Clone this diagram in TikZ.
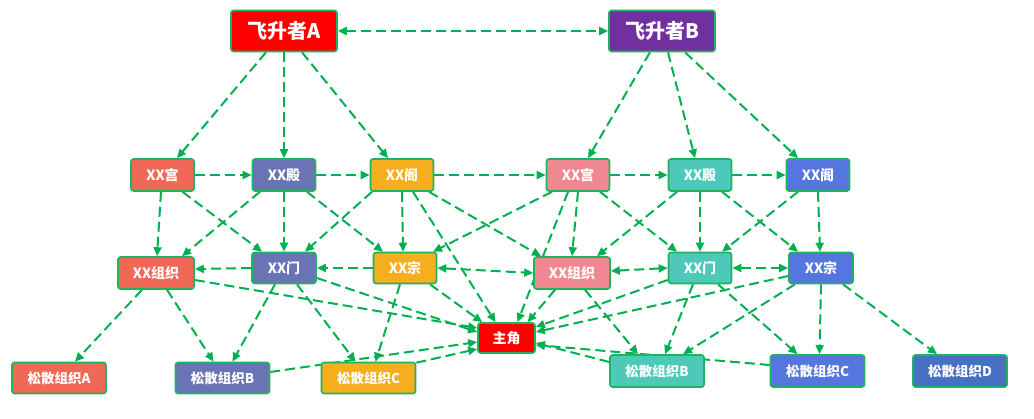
\documentclass[tikz,border=0pt]{standalone}
\usepackage{fontspec}
\setmainfont{Noto Sans CJK SC}
\usetikzlibrary{arrows.meta}
\pgfdeclarelayer{background}
\pgfsetlayers{background,main}
\definecolor{linegreen}{HTML}{00B050}
\definecolor{bordergreen}{HTML}{1FB35F}
\definecolor{cred}{HTML}{FF0000}
\definecolor{cpurple}{HTML}{7030A0}
\definecolor{ccoral}{HTML}{F06856}
\definecolor{cslate}{HTML}{6A74B5}
\definecolor{corange}{HTML}{F5AE1D}
\definecolor{cpink}{HTML}{F08891}
\definecolor{cteal}{HTML}{4EC8B9}
\definecolor{cblue}{HTML}{5476DE}
\definecolor{cdblue}{HTML}{4770C2}
\begin{document}
\begin{tikzpicture}[x=1pt,y=-1pt,
  box/.style={draw=bordergreen, line width=1.6pt, rounded corners=2.5pt, text=white, inner sep=0pt, align=center},
  topbox/.style={box, minimum width=106pt, minimum height=41pt, font=\fontsize{20}{20}\selectfont\bfseries},
  midbox/.style={box, minimum width=63pt, minimum height=32pt, font=\fontsize{14}{14}\selectfont\bfseries},
  widebox/.style={midbox, minimum width=76pt},
  herobox/.style={box, minimum width=57pt, minimum height=30pt, font=\fontsize{14}{14}\selectfont\bfseries},
  lowbox/.style={box, minimum width=94pt, minimum height=31pt, font=\fontsize{13.5}{13.5}\selectfont\bfseries},
  link/.style={draw=linegreen, line width=2pt, dash pattern=on 10pt off 5pt, -{Triangle[length=9pt,width=8pt]}},
  dlink/.style={link, {Triangle[length=9pt,width=8pt]}-{Triangle[length=9pt,width=8pt]}}]
\useasboundingbox (0,0) rectangle (1034,419);
% top
\node[topbox, fill=cred] (A) at (284,31) {飞升者A};
\node[topbox, fill=cpurple] (B) at (662,31) {飞升者B};
% row 2
\node[midbox, fill=ccoral] (Ag) at (162.5,175) {XX宫};
\node[midbox, fill=cslate] (Ad) at (284,175) {XX殿};
\node[midbox, fill=corange] (Ae) at (402,175) {XX阁};
\node[midbox, fill=cpink] (Bg) at (578,175) {XX宫};
\node[midbox, fill=cteal] (Bd) at (700,175) {XX殿};
\node[midbox, fill=cblue] (Be) at (818,175) {XX阁};
% row 3
\node[widebox, fill=ccoral] (Azz) at (156,273) {XX组织};
\node[midbox, fill=cslate, minimum width=64pt, minimum height=31pt] (Am) at (284,268) {XX门};
\node[midbox, fill=corange, minimum height=31pt] (Az) at (405,268) {XX宗};
\node[widebox, fill=cpink] (Bzz) at (572,273) {XX组织};
\node[midbox, fill=cteal, minimum height=31pt] (Bm) at (700,268) {XX门};
\node[midbox, fill=cblue, minimum width=64pt, minimum height=31pt] (Bz) at (821,268) {XX宗};
% hero
\node[herobox, fill=cred] (H) at (506.5,338) {主角};
% bottom
\node[lowbox, fill=ccoral] (LA) at (59,378) {松散组织A};
\node[lowbox, fill=cslate] (LB) at (222.5,378) {松散组织B};
\node[lowbox, fill=corange] (LC) at (368.5,378) {松散组织C};
\node[lowbox, fill=cteal, minimum height=32pt] (RB) at (657,371) {松散组织B};
\node[lowbox, fill=cblue, minimum height=32pt] (RC) at (817.5,371) {松散组织C};
\node[lowbox, fill=cdblue, minimum height=32pt] (RD) at (960,371) {松散组织D};

\begin{pgfonlayer}{background}
% top links
\draw[dlink] (A.east) -- (B.west);
\draw[link] ([xshift=-18pt]A.south) -- ([xshift=14.5pt]Ag.north);
\draw[link] (A.south) -- (Ad.north);
\draw[link] ([xshift=18pt]A.south) -- ([xshift=-14pt]Ae.north);
\draw[link] ([xshift=-12pt]B.south) -- ([xshift=10pt]Bg.north);
\draw[link] ([xshift=6pt]B.south) -- ([xshift=-5pt]Bd.north);
\draw[link] ([xshift=23pt]B.south) -- ([xshift=-20pt]Be.north);
% row 2 horizontal
\draw[link] (Ag.east) -- (Ad.west);
\draw[link] (Ad.east) -- (Ae.west);
\draw[link] (Ae.east) -- (Bg.west);
\draw[link] (Bg.east) -- (Bd.west);
\draw[link] (Bd.east) -- (Be.west);
% row 2 to row 3
\draw[link] ([xshift=-1.5pt]Ag.south) -- ([xshift=1pt]Azz.north);
\draw[link] ([xshift=20pt]Ag.south) -- ([xshift=-22pt]Am.north);
\draw[link] ([xshift=-24pt]Ad.south) -- ([xshift=26pt]Azz.north);
\draw[link] (Ad.south) -- (Am.north);
\draw[link] ([xshift=23pt]Ad.south) -- ([xshift=-22pt]Az.north);
\draw[link] ([xshift=-30pt]Ae.south) -- ([xshift=21pt]Am.north);
\draw[link] (Ae.south) -- ([xshift=-2pt]Az.north);
\draw[link] ([xshift=11pt]Ae.south) -- ([xshift=-11pt]H.north);
\draw[link] ([xshift=27pt]Ae.south) -- ([xshift=-31pt]Bzz.north);
\draw[link] ([xshift=-26pt]Bg.south) -- ([xshift=28pt]Az.north);
\draw[link] ([xshift=-10pt]Bg.south) -- ([xshift=11pt]H.north);
\draw[link] (Bg.south) -- (Bzz.north);
\draw[link] ([xshift=22pt]Bg.south) -- ([xshift=-23pt]Bm.north);
\draw[link] ([xshift=-23pt]Bd.south) -- ([xshift=25pt]Bzz.north);
\draw[link] (Bd.south) -- (Bm.north);
\draw[link] ([xshift=22pt]Bd.south) -- ([xshift=-23pt]Bz.north);
\draw[link] ([xshift=-20pt]Be.south) -- ([xshift=22pt]Bm.north);
\draw[link] (Be.south) -- ([xshift=-1pt]Bz.north);
% row 3 horizontal
\draw[link] (Am.west) -- ([yshift=4pt]Azz.east);
\draw[link] (Az.west) -- (Am.east);
\draw[dlink] (Az.east) -- (Bzz.west);
\draw[dlink] ([yshift=2pt]Bzz.east) -- (Bm.west);
\draw[dlink] (Bm.east) -- (Bz.west);
% row 3 to hero
\draw[link] ([yshift=-7pt]Azz.east) -- ([yshift=10pt]H.west);
\draw[link] ([yshift=-10pt]Am.east) -- ([yshift=6pt]H.west);
\draw[link] ([xshift=25pt]Az.south) -- ([xshift=5pt]H.north west);
\draw[link] ([xshift=-17pt]Bzz.south) -- ([xshift=21pt]H.north);
\draw[link] ([yshift=-12pt]Bm.west) -- ([yshift=11pt]H.east);
\draw[link] ([yshift=-8pt]Bz.west) -- ([yshift=6pt]H.east);
% row 3 to bottom left
\draw[link] ([xshift=-14pt]Azz.south) -- ([xshift=16pt]LA.north);
\draw[link] ([xshift=11pt]Azz.south) -- ([xshift=-9pt]LB.north);
\draw[link] ([xshift=-9pt]Am.south) -- ([xshift=10pt]LB.north);
\draw[link] ([xshift=13pt]Am.south) -- ([xshift=-13pt]LC.north);
\draw[link] ([xshift=-5pt]Az.south) -- ([xshift=7pt]LC.north);
\draw[link] ([yshift=6pt]LB.east) -- ([yshift=-4pt]H.west);
\draw[link] ([yshift=-1pt]LC.north east) -- ([yshift=-11pt]H.west);
% row 3 to bottom right
\draw[link] ([xshift=13pt]Bzz.south) -- ([xshift=-19pt]RB.north);
\draw[link] ([xshift=-7pt]Bm.south) -- ([xshift=8pt]RB.north);
\draw[link] ([xshift=18pt]Bm.south) -- ([xshift=-20pt]RC.north);
\draw[link] ([xshift=-26pt]Bz.south) -- ([xshift=26pt]RB.north);
\draw[link] (Bz.south) -- ([xshift=2pt]RC.north);
\draw[link] ([xshift=22pt]Bz.south) -- ([xshift=-23pt]RD.north);
\draw[link] ([yshift=9pt]RB.west) -- ([yshift=-5pt]H.east);
\draw[link] ([yshift=6pt]RC.west) -- ([yshift=-7pt]H.east);
\end{pgfonlayer}
\end{tikzpicture}
\end{document}
